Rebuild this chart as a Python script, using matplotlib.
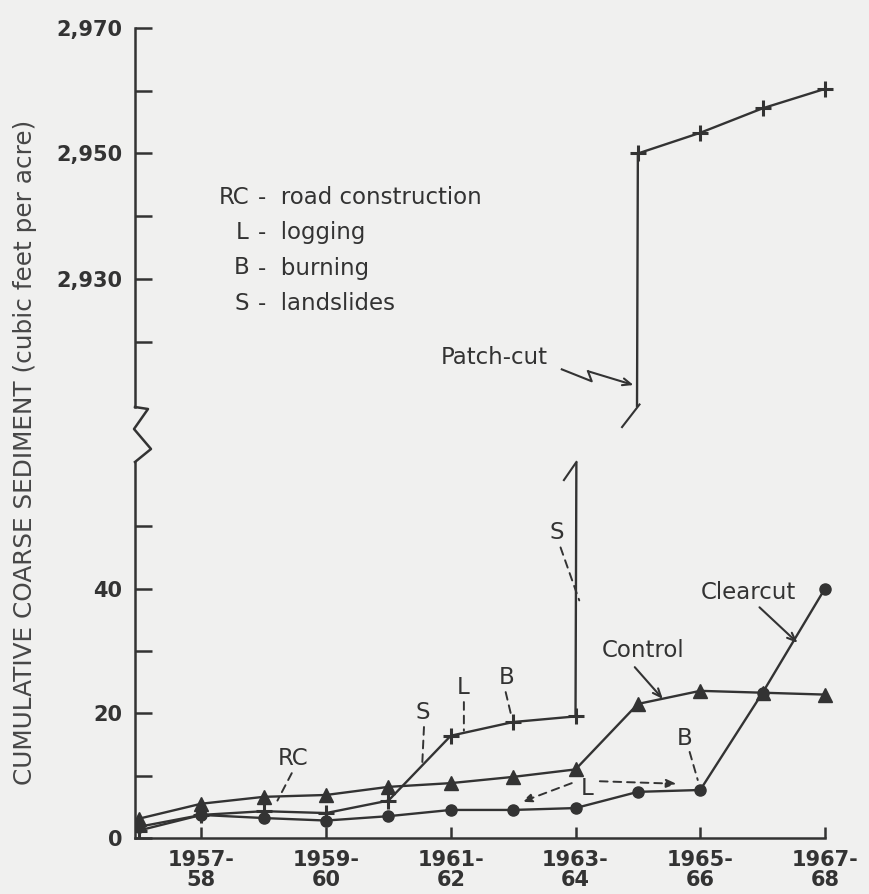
import numpy as np
import matplotlib.pyplot as plt
from matplotlib.lines import Line2D

W, H = 869, 894
BG = "#f0f0ef"
INK = "#333333"
FS = 16.5

# water years 1956-57 ... 1967-68, one point per year
years = list(range(12))
tick_pos = [1, 3, 5, 7, 9, 11]
tick_labels = ["1957-\n58", "1959-\n60", "1961-\n62", "1963-\n64", "1965-\n66", "1967-\n68"]

control = [3.1, 5.5, 6.6, 6.9, 8.2, 8.8, 9.8, 11.0, 21.5, 23.6, 23.3, 23.0]
clearcut = [1.8, 3.7, 3.2, 2.8, 3.5, 4.5, 4.5, 4.8, 7.4, 7.7, 23.3, 40.0]
patchcut = [1.2, 3.7, 4.3, 4.0, 6.0, 16.4, 18.6, 19.5, 2950.0, 2953.3, 2957.2, 2960.3]

low_ticks = [0, 10, 20, 30, 40, 50]
low_labels = ["0", "", "20", "", "40", ""]
high_ticks = [2920, 2930, 2940, 2950, 2960, 2970]
high_labels = ["", "2,930", "", "2,950", "", "2,970"]

LOW_LIM = (0, 60.3)
HIGH_LIM = (2909.6, 2970)
XLIM = (-0.064, 11.25)

key_codes = ["RC", "L", "B", "S"]
key_names = ["road construction", "logging", "burning", "landslides"]


def fx(px):
    return px / W


def fy(py):
    return 1 - py / H


plt.rcParams["font.family"] = ["DejaVu Sans"]

fig = plt.figure(figsize=(W / 100, H / 100), dpi=100, facecolor=BG)
x_right = 135 + (XLIM[1] - XLIM[0]) * 62.36
ax_lo = fig.add_axes([fx(135), fy(838), fx(x_right) - fx(135), fy(462) - fy(838)])
ax_hi = fig.add_axes([fx(135), fy(407), fx(x_right) - fx(135), fy(28) - fy(407)])

for ax in (ax_lo, ax_hi):
    ax.set_facecolor("none")
    ax.plot(years, control, "-", marker="^", ms=10, color=INK, lw=1.7)
    ax.plot(years, clearcut, "-", marker="o", ms=8, color=INK, lw=1.7)
    ax.plot(years, patchcut, "-", marker="+", ms=12, mew=2.2, color=INK, lw=1.7)
    ax.set_xlim(*XLIM)
    for s in ("top", "right"):
        ax.spines[s].set_visible(False)
    ax.spines["left"].set_linewidth(1.8)
    ax.spines["left"].set_color(INK)
    ax.tick_params(axis="y", direction="in", length=12, width=1.8, color=INK,
                   pad=9, labelsize=15, labelcolor=INK)

ax_lo.set_ylim(*LOW_LIM)
ax_hi.set_ylim(*HIGH_LIM)

ax_lo.set_yticks(low_ticks)
ax_lo.set_yticklabels(low_labels, fontweight="bold")
ax_hi.set_yticks(high_ticks)
ax_hi.set_yticklabels(high_labels, fontweight="bold")

ax_lo.spines["bottom"].set_bounds(XLIM[0], 11)
ax_lo.spines["bottom"].set_linewidth(1.8)
ax_lo.spines["bottom"].set_color(INK)
ax_lo.set_xticks(tick_pos)
ax_lo.set_xticklabels(tick_labels, fontweight="bold", fontsize=15, color=INK,
                      linespacing=0.95)
ax_lo.tick_params(axis="x", direction="in", length=8, width=1.8, color=INK, pad=9)

ax_hi.spines["bottom"].set_visible(False)
ax_hi.tick_params(axis="x", bottom=False, labelbottom=False)

# zigzag break on the y axis
zx = [135, 148, 134, 151, 135]
zy = [407, 409, 429, 449, 462]
fig.add_artist(Line2D([fx(p) for p in zx], [fy(p) for p in zy],
                      transform=fig.transFigure, color=INK, lw=1.8))

# break marks on the patch-cut jump
x_lo = 7 + (LOW_LIM[1] - patchcut[7]) / (patchcut[8] - patchcut[7])
x_hi = 7 + (HIGH_LIM[0] - patchcut[7]) / (patchcut[8] - patchcut[7])
ax_lo.plot([x_lo - 0.2, x_lo], [LOW_LIM[1] - 2.9, LOW_LIM[1]], color=INK, lw=1.5, clip_on=False)
ax_hi.plot([x_hi - 0.24, x_hi + 0.04], [HIGH_LIM[0] - 3.2, HIGH_LIM[0] + 0.4],
           color=INK, lw=1.5, clip_on=False)

# y label
fig.text(fx(25), fy(452), "CUMULATIVE COARSE SEDIMENT (cubic feet per acre)",
         rotation=90, ha="center", va="center", fontsize=17.8, color="#474747")

# key
for i, (code, name) in enumerate(zip(key_codes, key_names)):
    yy = fy(197 + i * 35.5)
    fig.text(fx(249), yy, code, ha="right", va="center", fontsize=FS, color=INK)
    fig.text(fx(258), yy, "-  " + name, ha="left", va="center", fontsize=FS, color=INK)

dash = dict(arrowstyle="-", linestyle=(0, (4, 3)), color=INK, lw=1.4,
            shrinkA=0, shrinkB=0)


def event(ax, label, xy_text, xy_from, xy_to):
    ax.text(*xy_text, label, ha="center", va="center", fontsize=FS, color=INK)
    ax.annotate("", xy=xy_to, xytext=xy_from, arrowprops=dash)


event(ax_lo, "RC", (2.47, 12.8), (2.45, 10.4), (2.22, 6.0))
event(ax_lo, "S", (4.55, 20.2), (4.57, 17.8), (4.54, 11.4))
event(ax_lo, "L", (5.19, 24.2), (5.21, 21.8), (5.21, 17.2))
event(ax_lo, "B", (5.9, 25.8), (5.88, 23.4), (5.98, 19.2))
event(ax_lo, "S", (6.7, 49.0), (6.76, 46.6), (7.06, 38.1))
event(ax_lo, "B", (8.75, 16.0), (8.83, 13.8), (8.96, 9.3))

# logging span on clearcut watershed
ax_lo.text(7.18, 7.9, "L", ha="center", va="center", fontsize=FS, color=INK)
head = dict(arrowstyle="-|>,head_length=0.6,head_width=0.25", linestyle=(0, (4, 3)),
            color=INK, lw=1.4, shrinkA=0, shrinkB=0)
ax_lo.annotate("", xy=(6.14, 5.8), xytext=(6.94, 8.8), arrowprops=head)
ax_lo.annotate("", xy=(8.62, 8.7), xytext=(7.39, 9.1), arrowprops=head)

# series labels
solid = dict(arrowstyle="->,head_length=0.6,head_width=0.25", color=INK, lw=1.5,
             shrinkA=0, shrinkB=0)
ax_lo.text(8.08, 30.1, "Control", ha="center", va="center", fontsize=FS, color=INK)
ax_lo.annotate("", xy=(8.4, 22.3), xytext=(7.95, 27.4), arrowprops=solid)
ax_lo.text(9.78, 39.4, "Clearcut", ha="center", va="center", fontsize=FS, color=INK)
ax_lo.annotate("", xy=(10.56, 31.3), xytext=(9.95, 37.0), arrowprops=solid)

ax_hi.text(5.69, 2917.5, "Patch-cut", ha="center", va="center", fontsize=FS, color=INK)
ax_hi.plot([6.78, 7.26, 7.2], [2915.6, 2913.7, 2915.3], color=INK, lw=1.5)
ax_hi.annotate("", xy=(7.93, 2913.1), xytext=(7.2, 2915.3), arrowprops=solid)

fig.savefig("out.png", dpi=100, facecolor=BG)
